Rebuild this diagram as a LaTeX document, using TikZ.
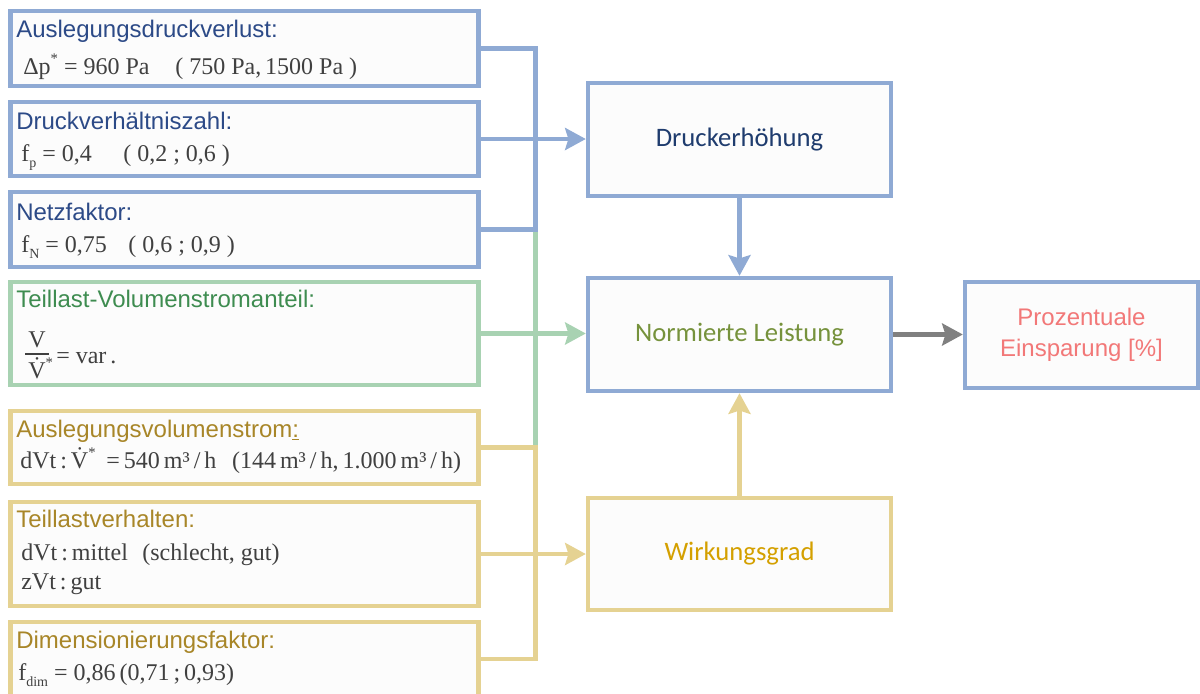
\documentclass[tikz,border=0pt]{standalone}
\usepackage{fontspec}
\setmainfont{Liberation Serif}
\setsansfont{Liberation Sans}
\newfontfamily\calibrifont{Carlito}
\usetikzlibrary{arrows.meta}

\definecolor{bblue}{RGB}{143,170,212}
\definecolor{bgreen}{RGB}{168,210,178}
\definecolor{byellow}{RGB}{229,210,146}
\definecolor{bgray}{RGB}{128,128,128}
\definecolor{boxfill}{RGB}{252,252,252}
\definecolor{tblue}{RGB}{44,74,135}
\definecolor{tgreen}{RGB}{62,140,80}
\definecolor{tgold}{RGB}{168,134,40}
\definecolor{formula}{RGB}{64,64,64}
\definecolor{rnavy}{RGB}{31,60,110}
\definecolor{rolive}{RGB}{118,146,60}
\definecolor{ramber}{RGB}{212,160,0}
\definecolor{rsalmon}{RGB}{242,120,120}

% small raised asterisk as used in the formulas
\newcommand{\supstar}{\raisebox{0.42em}{\fontsize{11}{11}\selectfont *}}
% small lowered index
\newcommand{\lowidx}[1]{\raisebox{-0.28em}{\fontsize{10.5}{11}\selectfont #1}}

\begin{document}
\begin{tikzpicture}[x=0.75pt,y=-0.75pt,
  box/.style={draw, line width=3.3pt, fill=boxfill, inner sep=0pt, line join=miter},
  lbox/.style={box, minimum width=351pt},
  rbox/.style={box, minimum width=227.25pt, minimum height=84.75pt, align=center},
  ttl/.style={font=\sffamily\fontsize{18}{20}\selectfont, anchor=base west, inner sep=0pt},
  frm/.style={font=\rmfamily\fontsize{18}{20}\selectfont, text=formula, anchor=base west, inner sep=0pt},
  rtxt/.style={font=\calibrifont\fontsize{20}{24}\selectfont},
  link/.style={line width=3.3pt, line join=miter},
  tip/.style={-{Stealth[length=15.5pt,width=16.5pt,inset=2.5pt]}}
]
\useasboundingbox (0,0) rectangle (1200,693);
\clip (0,0) rectangle (1200,693);

% input boxes (left column)
\node[lbox, draw=bblue,   minimum height=56.25pt] (b1) at (244.5,48.5)  {};
\node[lbox, draw=bblue,   minimum height=55.5pt]  (b2) at (244.5,139)   {};
\node[lbox, draw=bblue,   minimum height=56.25pt] (b3) at (244.5,229.5) {};
\node[lbox, draw=bgreen,  minimum height=77.25pt] (b4) at (244.5,333.5) {};
\node[lbox, draw=byellow, minimum height=54.75pt] (b5) at (244.5,447.5) {};
\node[lbox, draw=byellow, minimum height=78pt]    (b6) at (244.5,554)   {};
\node[lbox, draw=byellow, minimum height=55.5pt]  (b7) at (244.5,659)   {};

% result boxes (right)
\node[rbox, draw=bblue, text=rnavy, rtxt] (druck) at (739.5,139.5) {Druckerhöhung};
\node[rbox, draw=bblue, text=rolive, rtxt] (norm) at (739.5,334.5) {Normierte Leistung};
\node[rbox, draw=byellow, text=ramber, rtxt, minimum height=84pt] (wirk) at (739.5,554) {Wirkungsgrad};
\node[box, draw=bblue, text=rsalmon, minimum width=174.75pt, minimum height=79.875pt,
      align=center, font=\sffamily\fontsize{18}{23.25}\selectfont] (proz) at (1081.5,335)
      {Prozentuale\\Einsparung [\%]};

% labels of the input boxes
\node[ttl, text=tblue] (t1) at (16,37) {Auslegungsdruckverlust:};
\node[frm] (f1) at (23,74) {Δp\supstar{} = 960 Pa};
\node[frm] (f1r) at (175,74) {( 750 Pa,\,1500 Pa )};

\node[ttl, text=tblue] (t2) at (16,129) {Druckverhältniszahl:};
\node[frm] (f2) at (21,161) {f\lowidx{p} = 0,4};
\node[frm] (f2r) at (123,161) {( 0,2 ; 0,6 )};

\node[ttl, text=tblue] (t3) at (16,220) {Netzfaktor:};
\node[frm] (f3) at (21,252) {f\lowidx{N} = 0,75};
\node[frm] (f3r) at (128,252) {( 0,6 ; 0,9 )};

\node[ttl, text=tgreen] (t4) at (16,307) {Teillast-Volumenstromanteil:};
\node[frm, anchor=base] (fnum) at (37,347) {V};
\node[frm] (fden) at (28,378) {\.{V}\supstar};
\coordinate (fl) at (25,354);
\coordinate (fr) at (49,354);
\draw[formula, line width=0.8pt] (fl) -- (fr);
\node[frm] (f4) at (56,363) {= var\,.};

\node[ttl, text=tgold] (t5) at (16,437) {Auslegungsvolumenstrom\underline{:}};
\node[frm] (f5) at (20,468) {dVt\,:\,\.{V}\supstar\hspace{0.45em}=\,540\,m³\,/\,h\hspace{0.65em}(144\,m³\,/\,h,\,1.000\,m³\,/\,h)};

\node[ttl, text=tgold] (t6) at (16,527) {Teillastverhalten:};
\node[frm] (f6a) at (21,560) {dVt\,:\,mittel\hspace{0.6em}(schlecht, gut)};
\node[frm] (f6b) at (21,589) {zVt\,:\,gut};

\node[ttl, text=tgold] (t7) at (16,648) {Dimensionierungsfaktor:};
\node[frm] (f7) at (18,680) {f\lowidx{dim} = 0,86\,(0,71\,;\,0,93)};

% collecting buses
\coordinate (gtop) at (535.5,229.5);
\coordinate (gbot) at (535.5,447.5);
\coordinate (bx) at (535.5,120);
\coordinate (yx) at (535.5,550);

\draw[link, bgreen] (gtop) -- (gbot);
\draw[link, bblue] (b1.east) -| (bx) |- (b3.east);
\draw[link, byellow] (b5.east) -| (yx) |- (b7.east);

% arrows into the result boxes
\draw[link, tip, bblue] (b2.east) -- (b2.east -| druck.west);
\draw[link, tip, bgreen] (b4.east) -- (b4.east -| norm.west);
\draw[link, tip, byellow] (b6.east) -- (b6.east -| wirk.west);
\draw[link, tip, bblue] (druck.south) -- (norm.north);
\draw[link, tip, byellow] (wirk.north) -- (norm.south);
\draw[link, tip, bgray] (norm.east) -- (norm.east -| proz.west);
\end{tikzpicture}
\end{document}
